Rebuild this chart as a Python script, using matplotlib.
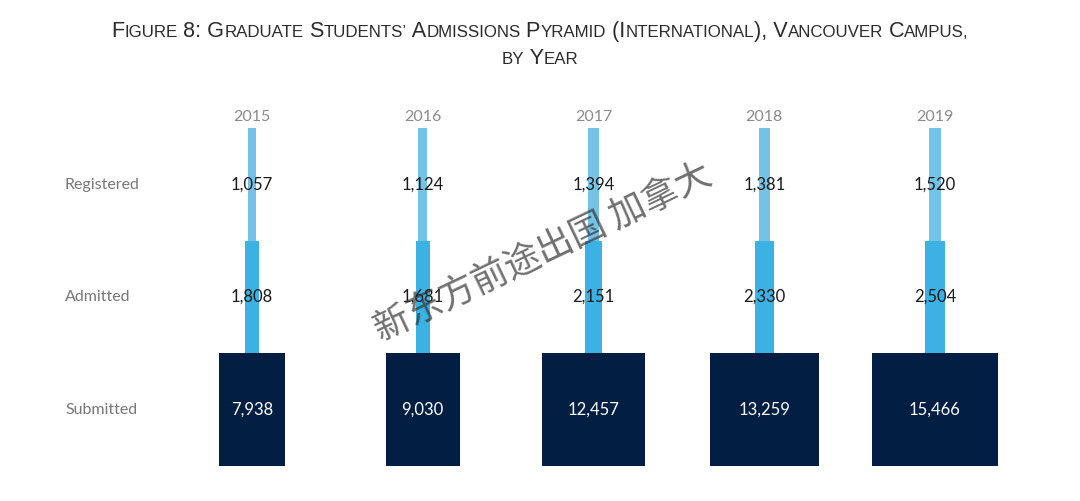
import matplotlib
matplotlib.use("Agg")
import matplotlib.pyplot as plt
from matplotlib import font_manager

years = ["2015", "2016", "2017", "2018", "2019"]
stages = ["Registered", "Admitted", "Submitted"]
registered = [1057, 1124, 1394, 1381, 1520]
admitted = [1808, 1681, 2151, 2330, 2504]
submitted = [7938, 9030, 12457, 13259, 15466]
title_lines = ["Figure 8: Graduate Students’ Admissions Pyramid (International), Vancouver Campus,",
               "by Year"]
watermark = "新东方前途出国 加拿大"

W, H = 1080, 501
DPI = 100
fig = plt.figure(figsize=(W / DPI, H / DPI), dpi=DPI)
fig.patch.set_facecolor("white")
ax = fig.add_axes([0, 0, 1, 1])
ax.set_axis_off()

# x in value units: bar widths are proportional to values
S = 20800.0                       # spacing between columns (value units)
k = 683.0 / (4 * S)               # px per value unit
x0_px = 252.0
ax.set_xlim(-x0_px / k, (W - x0_px) / k)
ax.set_ylim(H, 0)                 # y in pixel-like units, top at 0


def px2x(px):
    return (px - x0_px) / k


centers = [i * S for i in range(len(years))]
row_tops = [128, 241, 353]
row_h = [113, 112, 113]
colors = ["#74C3E7", "#3CB1E3", "#021E43"]
series = [registered, admitted, submitted]
txtcol = ["#1a1a1a", "#1a1a1a", "white"]

lab_font = "Lato"
for r, (vals, c) in enumerate(zip(series, colors)):
    ax.bar(centers, row_h[r], width=vals, bottom=row_tops[r], color=c,
           align="center", linewidth=0)
    yc = row_tops[r] + row_h[r] / 2
    for xc, v in zip(centers, vals):
        ax.text(xc, yc, f"{v:,}", ha="center", va="center", fontsize=12,
                color=txtcol[r], family=lab_font)
    ax.text(px2x(65), yc, stages[r], ha="left", va="center",
            fontsize=11.5, color="#777777", family=lab_font)

for xc, y in zip(centers, years):
    ax.text(xc, 117, y, ha="center", va="center", fontsize=11.5,
            color="#8a8a8a", family=lab_font)

# watermark
ax.text(px2x(543), 252, watermark, rotation=25.5, rotation_mode="anchor",
        ha="center", va="center", fontsize=26, color="#333333", alpha=0.7,
        family=["Noto Sans CJK SC", "DejaVu Sans"], fontweight="light")

# small-caps title
title_font = "Liberation Sans Narrow"
avail = {f.name for f in font_manager.fontManager.ttflist}
if title_font not in avail:
    title_font = "Liberation Sans"


def segments(s):
    segs = []
    for ch in s:
        if ch in ",’." and segs:
            small = segs[-1][1]
        else:
            small = ch.islower()
        t = ch.upper() if ch.islower() else ch
        if segs and segs[-1][1] == small:
            segs[-1][0] += t
        else:
            segs.append([t, small])
    return segs


renderer = fig.canvas.get_renderer()
big = 17.0
ratio = 0.78
baselines = [37, 64]
target_w = 860.0


def draw_line(line, baseline, size_big):
    texts = []
    for t, small in segments(line):
        tx = fig.text(0, 1 - baseline / H, t, ha="left", va="baseline",
                      fontsize=size_big * ratio if small else size_big,
                      color="#2b2b2b", family=title_font)
        texts.append(tx)
    widths = [tx.get_window_extent(renderer).width for tx in texts]
    return texts, widths


texts, widths = draw_line(title_lines[0], baselines[0], big)
scale = target_w / sum(widths)
for tx in texts:
    tx.remove()
big *= scale
for line, bl in zip(title_lines, baselines):
    texts, widths = draw_line(line, bl, big)
    total = sum(widths)
    x = (W - total) / 2
    for tx, w in zip(texts, widths):
        tx.set_x(x / W)
        x += w

fig.savefig("out.png", dpi=DPI, facecolor="white")
